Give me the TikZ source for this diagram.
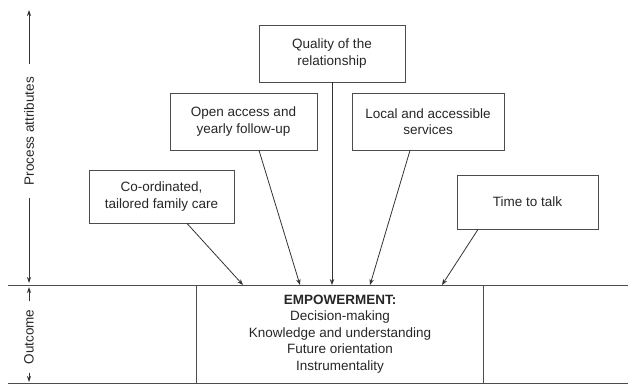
\documentclass[tikz,border=0pt]{standalone}
\usepackage{fontspec}
\setmainfont{Liberation Sans}
\usetikzlibrary{arrows.meta}
\begin{document}
\begin{tikzpicture}[x=1pt,y=-1pt,
  font=\fontsize{13.5}{16.5}\selectfont,
  every node/.style={text=black!85},
  attr/.style={draw=black!70, line width=0.8pt, align=center, inner sep=0pt},
  link/.style={draw=black!80, line width=0.8pt, -{Stealth[length=6pt,width=4.5pt]}},
  axis/.style={draw=black!80, line width=0.8pt, -{Stealth[length=6pt,width=4pt]}},
  rule/.style={draw=black!70, line width=0.8pt}]
\useasboundingbox (0,0) rectangle (628,385);

% process attribute boxes
\node[attr, minimum width=146pt, minimum height=57pt] (qual) at (332,53.5) {Quality of the\\relationship};
\node[attr, minimum width=147pt, minimum height=57pt] (open) at (243.5,121.5) {Open access and\\yearly follow-up};
\node[attr, minimum width=152pt, minimum height=57pt] (local) at (428,121.5) {Local and accessible\\services};
\node[attr, minimum width=145pt, minimum height=53pt] (coord) at (161.5,196.5) {Co-ordinated,\\tailored family care};
\node[attr, minimum width=141pt, minimum height=54pt] (talk) at (527.5,202) {Time to talk};

% outcome band
\coordinate (bandL) at (8,285);
\coordinate (bandR) at (628,285);
\coordinate (baseL) at (8,383);
\coordinate (baseR) at (628,383);
\draw[rule] (bandL) -- (bandR);
\draw[rule] (baseL) -- (baseR);
\node[align=center, minimum width=286pt, minimum height=98pt, inner sep=0pt] (emp) at (340,334)
  {\textbf{EMPOWERMENT:}\\Decision-making\\Knowledge and understanding\\Future orientation\\Instrumentality};
\draw[rule] (emp.north west) -- (emp.south west);
\draw[rule] (emp.north east) -- (emp.south east);

% arrows into the outcome
\coordinate (tCoord) at (243,285);
\coordinate (tOpen) at (300,285);
\coordinate (tQual) at (332,285);
\coordinate (tLocal) at (370,285);
\coordinate (tTalk) at (442,285);
\draw[link] ([xshift=25.5pt]coord.south) -- (tCoord);
\draw[link] ([xshift=15.5pt]open.south) -- (tOpen);
\draw[link] (qual.south) -- (tQual);
\draw[link] ([xshift=-18pt]local.south) -- (tLocal);
\draw[link] ([xshift=-49.5pt]talk.south) -- (tTalk);

% side axis: rotated labels with arrows running out from their ends
\node[rotate=90, inner sep=0pt] (proc) at (29,131) {Process attributes};
\node[rotate=90, inner sep=0pt] (outc) at (29,337) {Outcome};
\coordinate (pTop) at (29,10);
\coordinate (pBot) at (29,283);
\coordinate (oTop) at (29,287);
\coordinate (oBot) at (29,382);
\draw[axis, shorten <=13pt] (proc.east) -- (pTop);
\draw[axis, shorten <=13pt] (proc.west) -- (pBot);
\draw[axis, shorten <=8pt] (outc.east) -- (oTop);
\draw[axis, shorten <=8pt] (outc.west) -- (oBot);
\end{tikzpicture}
\end{document}
